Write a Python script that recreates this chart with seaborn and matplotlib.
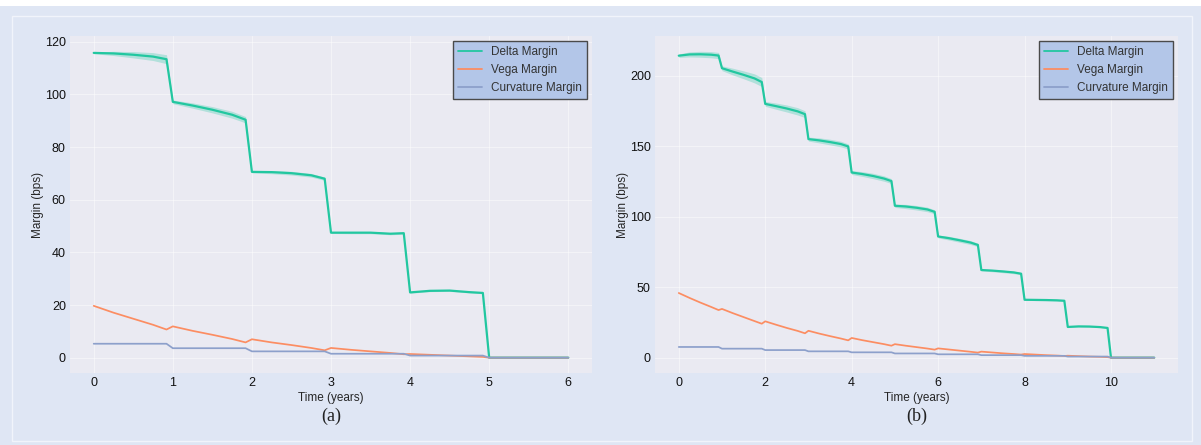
import numpy as np
import pandas as pd
import matplotlib
matplotlib.use("Agg")
import matplotlib.pyplot as plt
from matplotlib.patches import Rectangle
import seaborn as sns

# ---------------------------------------------------------------
# Sample grid inside each year (fraction of a year)
# ---------------------------------------------------------------
year_offsets = [0.0, 0.25, 0.5, 0.75, 0.92]

# ---------------- Panel (a): 5-year book, horizon 6 years ----------------
years_a = 5
horizon_a = 6
delta_a = [115.8, 115.6, 115.1, 114.4, 113.4,
           97.2, 95.8, 94.2, 92.3, 90.4,
           70.6, 70.5, 70.1, 69.3, 68.0,
           47.5, 47.5, 47.5, 47.1, 47.3,
           24.8, 25.4, 25.5, 24.9, 24.6,
           0.0, 0.0]
delta_a_band = [0.3, 0.8, 1.2, 1.5, 1.7,
                0.7, 1.0, 1.2, 1.3, 1.2,
                0.4, 0.6, 0.7, 0.7, 0.6,
                0.3, 0.4, 0.4, 0.4, 0.4,
                0.3, 0.3, 0.3, 0.3, 0.3,
                0.0, 0.0]
vega_a = [19.7, 17.1, 14.8, 12.5, 10.7,
          11.9, 10.2, 8.7, 7.1, 5.8,
          7.0, 5.8, 4.8, 3.7, 2.8,
          3.7, 3.0, 2.4, 1.8, 1.3,
          1.4, 1.1, 0.8, 0.5, 0.3,
          0.0, 0.0]
curv_a = [5.3, 5.3, 5.3, 5.3, 5.3,
          3.6, 3.6, 3.6, 3.6, 3.6,
          2.4, 2.4, 2.4, 2.4, 2.4,
          1.5, 1.5, 1.5, 1.5, 1.5,
          0.8, 0.8, 0.8, 0.8, 0.8,
          0.0, 0.0]

# ---------------- Panel (b): 10-year book, horizon 11 years ----------------
years_b = 10
horizon_b = 11
delta_b = [214.3, 215.2, 215.3, 215.0, 214.4,
           205.4, 203.0, 200.7, 198.2, 195.6,
           180.1, 178.5, 176.8, 174.8, 172.8,
           155.1, 154.2, 153.0, 151.6, 149.9,
           131.4, 130.3, 128.9, 127.1, 125.3,
           107.8, 107.3, 106.4, 105.2, 103.5,
           86.0, 84.8, 83.3, 81.7, 80.0,
           62.2, 61.8, 61.2, 60.5, 59.6,
           41.1, 41.0, 40.9, 40.7, 40.4,
           21.8, 22.2, 22.1, 21.7, 21.1,
           0.0, 0.0]
delta_b_band = [1.2, 1.8, 2.1, 2.2, 2.2,
                1.7, 2.4, 2.8, 3.2, 3.2,
                1.7, 2.2, 2.5, 2.6, 2.4,
                1.4, 1.8, 2.0, 2.0, 1.8,
                1.4, 1.7, 1.9, 1.9, 1.7,
                1.2, 1.5, 1.6, 1.6, 1.4,
                1.0, 1.3, 1.4, 1.4, 1.2,
                0.6, 0.8, 0.9, 0.9, 0.8,
                0.4, 0.5, 0.5, 0.5, 0.5,
                0.3, 0.4, 0.4, 0.4, 0.4,
                0.0, 0.0]
vega_b = [45.9, 42.4, 39.1, 36.0, 33.8,
          34.6, 31.6, 28.8, 26.0, 24.1,
          25.8, 23.4, 21.1, 19.0, 17.3,
          19.1, 17.1, 15.3, 13.6, 12.3,
          14.0, 12.4, 11.0, 9.6, 8.5,
          9.6, 8.5, 7.5, 6.5, 5.7,
          6.6, 5.8, 5.0, 4.2, 3.6,
          4.3, 3.7, 3.1, 2.6, 2.2,
          2.6, 2.2, 1.8, 1.5, 1.2,
          1.4, 1.1, 0.8, 0.6, 0.4,
          0.0, 0.0]
curv_b = [7.6, 7.6, 7.6, 7.6, 7.6,
          6.4, 6.4, 6.4, 6.4, 6.4,
          5.4, 5.4, 5.4, 5.4, 5.4,
          4.5, 4.5, 4.5, 4.5, 4.5,
          3.8, 3.8, 3.8, 3.8, 3.8,
          3.0, 3.0, 3.0, 3.0, 3.0,
          2.4, 2.4, 2.4, 2.4, 2.4,
          1.8, 1.8, 1.8, 1.8, 1.8,
          1.3, 1.3, 1.3, 1.3, 1.3,
          0.8, 0.8, 0.8, 0.8, 0.8,
          0.0, 0.0]

series_names = ["Delta Margin", "Vega Margin", "Curvature Margin"]
series_colors = ["#22c7a0", "#fc8d62", "#8da0cb"]
series_widths = [1.6, 1.25, 1.25]
panel_tags = ["(a)", "(b)"]

FIG_BG = "#dfe6f4"
FRAME = "#f1f4fb"
LEGEND_FACE = "#b3c6e8"


def time_grid(n_years, horizon):
    return [k + f for k in range(n_years) for f in year_offsets] + [float(n_years), float(horizon)]


def series_frame(times, values, band):
    # three replicates per date: lower edge, centre, upper edge of the band
    t = np.asarray(times)
    v = np.asarray(values)
    w = np.asarray(band)
    return pd.DataFrame({
        "time": np.concatenate([t, t, t]),
        "margin": np.concatenate([v - w, v, v + w]),
    })


sns.set_theme(style="darkgrid")
plt.rcParams["font.family"] = ["Liberation Sans", "DejaVu Sans"]
plt.rcParams["axes.facecolor"] = "#eaeaf2"

fig = plt.figure(figsize=(12.01, 4.45), dpi=100)
fig.patch.set_facecolor("white")

W, H = 1201.0, 445.0
fig.patches.append(Rectangle((0, 0), 1, 1 - 6 / H, transform=fig.transFigure,
                             facecolor=FIG_BG, edgecolor="none", zorder=-10))
fig.patches.append(Rectangle((12 / W, 4 / H), (1192 - 12) / W, (441 - 16) / H,
                             transform=fig.transFigure, facecolor="none",
                             edgecolor=FRAME, linewidth=1.0, zorder=-9))

ax_a = fig.add_axes([70 / W, 1 - 373 / H, 522 / W, 337 / H])
ax_b = fig.add_axes([655 / W, 1 - 373 / H, 523 / W, 337 / H])

panels = [
    (ax_a, time_grid(years_a, horizon_a), [delta_a, vega_a, curv_a],
     [delta_a_band, [0] * len(vega_a), [0] * len(curv_a)]),
    (ax_b, time_grid(years_b, horizon_b), [delta_b, vega_b, curv_b],
     [delta_b_band, [0] * len(vega_b), [0] * len(curv_b)]),
]

for (ax, times, values, bands), tag in zip(panels, panel_tags):
    for name, col, lw, vals, band in zip(series_names, series_colors, series_widths, values, bands):
        df = series_frame(times, vals, band)
        sns.lineplot(data=df, x="time", y="margin", ax=ax, color=col, linewidth=lw,
                     estimator="mean", errorbar=("pi", 100), label=name,
                     err_kws={"alpha": 0.28, "linewidth": 0})
    ax.set_xlabel("Time (years)", fontsize=8.5, labelpad=2)
    ax.set_ylabel("Margin (bps)", fontsize=8.5, labelpad=0.5)
    ax.tick_params(axis="both", labelsize=9, length=0, pad=3, colors="#111111")
    ax.grid(True, color="white", linewidth=0.8, alpha=0.45)
    for s in ax.spines.values():
        s.set_visible(False)
    leg = ax.legend(loc="upper right", fontsize=8.5, frameon=True, fancybox=False,
                    framealpha=1.0, facecolor=LEGEND_FACE, edgecolor="#4a4a4a",
                    borderaxespad=0.45)
    leg.get_frame().set_linewidth(1.0)
    for line in leg.get_lines():
        line.set_linewidth(1.3)
    for t in leg.get_texts():
        t.set_color("#333333")
    ax.text(0.5, -0.1276, tag, transform=ax.transAxes, ha="center", va="center",
            fontsize=13, family=["Liberation Serif", "DejaVu Serif"], color="#222222")

ax_a.set_xticks([0, 1, 2, 3, 4, 5, 6])

fig.savefig("out.png", dpi=100, facecolor=fig.get_facecolor())
